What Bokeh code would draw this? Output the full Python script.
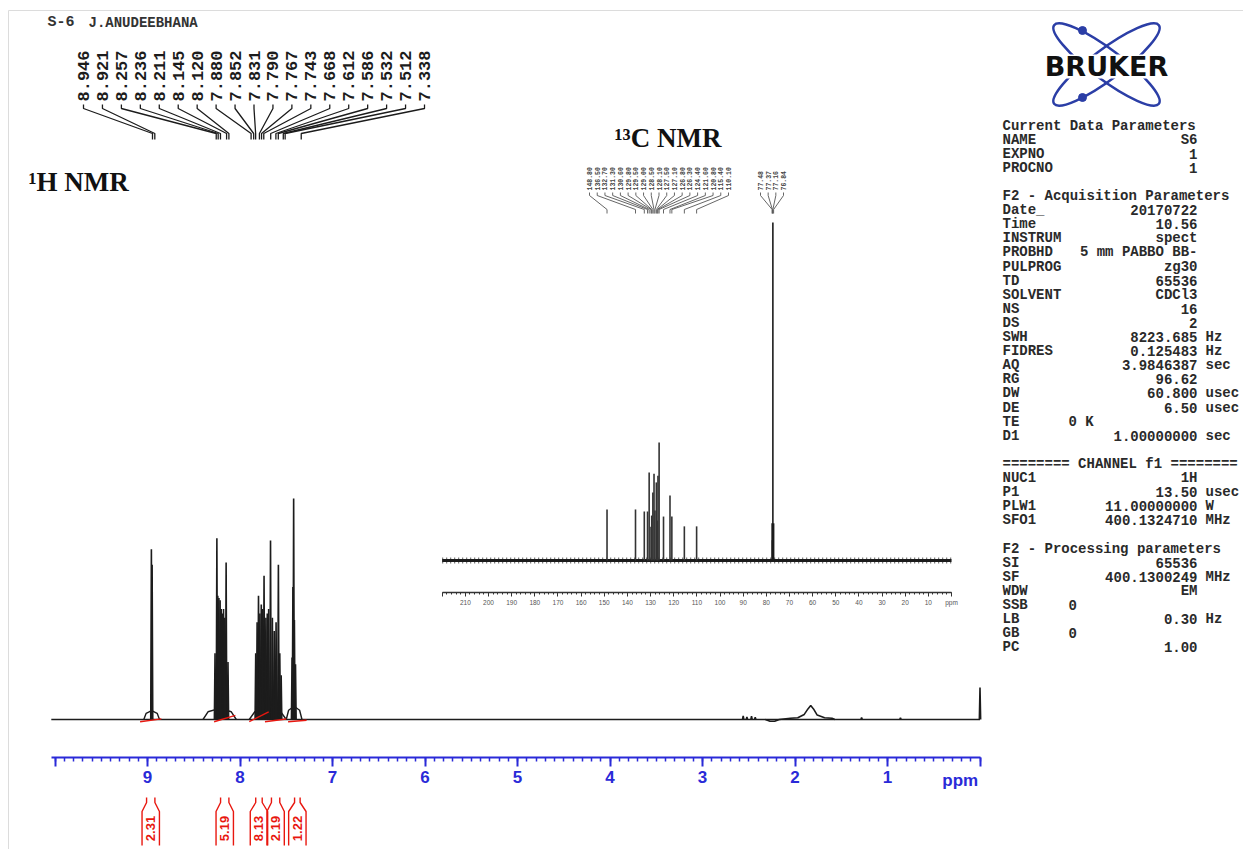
from math import pi

from bokeh.core.properties import value
from bokeh.embed import file_html
from bokeh.models import FixedTicker, LinearAxis, Range1d
from bokeh.plotting import figure
from bokeh.resources import INLINE

W, H = 1243, 849

# ---------------------------------------------------------------- 1H data
# peak-pick labels (ppm)
H1_PEAK_LABELS = [8.946, 8.921, 8.257, 8.236, 8.211, 8.145, 8.120, 7.880, 7.852,
                  7.831, 7.790, 7.767, 7.743, 7.668, 7.612, 7.586, 7.532, 7.512, 7.338]

# spectrum lines: position (ppm) and height (tallest line = 100)
H1_LINE_PPM = [8.958, 8.950,
               8.250, 8.150, 8.270, 8.240, 8.228, 8.215, 8.203, 8.190, 8.178,
               8.165, 8.130,
               7.800, 7.740, 7.670, 7.585, 7.830, 7.815, 7.785, 7.770, 7.755,
               7.720, 7.705, 7.690, 7.650, 7.630, 7.610, 7.570, 7.555,
               7.420, 7.437, 7.428, 7.412, 7.400]
H1_LINE_HT = [77, 70,
              82, 71, 30, 56, 55, 54, 50, 48, 50, 46, 26,
              56, 65, 81, 70, 30, 44, 48, 52, 50,
              46, 48, 50, 46, 40, 44, 30, 20,
              100, 28, 60, 45, 25]

# broad feet under each multiplet: from, to, height
H1_FOOT_FROM = [9.04, 8.40, 7.90, 7.50]
H1_FOOT_TO = [8.87, 8.04, 7.50, 7.33]
H1_FOOT_HT = [4, 5, 5, 6]

# small signals in the aliphatic region and the reference line
H1_MINOR_PPM = [2.56, 2.52, 2.47, 2.43, 1.28, 0.86, 0.00]
H1_MINOR_HT = [1.6, 1.2, 1.5, 1.0, 0.9, 0.8, 14.5]
H1_BUMP_PPM = [2.32, 2.27, 2.22, 2.17, 2.05, 1.97, 1.90, 1.86, 1.83, 1.80, 1.76,
               1.68, 1.60, 1.57]
H1_BUMP_HT = [0, -0.8, -0.8, 0, 0.6, 0.8, 2.3, 4.8, 6.3, 4.8, 2.0, 0.8, 0.6, 0]

# integrals
INT_LABELS = ["2.31", "5.19", "8.13", "2.19", "1.22"]
INT_FROM = [9.01, 8.21, 7.83, 7.66, 7.41]
INT_TO = [8.92, 8.12, 7.76, 7.57, 7.35]

H1_AXIS_TICKS = [float(t) for t in range(0, 11)]

# ---------------------------------------------------------------- 13C data
C13_PEAK_PPM = [148.80, 136.50, 132.70, 131.30, 130.60, 129.80, 129.50, 129.00,
                128.50, 128.10, 127.50, 127.10, 126.80, 126.30, 124.40, 121.60,
                120.80, 115.40, 110.10]
C13_PEAK_HT = [15.1, 15.1, 14.5, 14.5, 26.0, 10.0, 13.3, 20.1, 25.7, 14.8, 23.1,
               11.8, 25.1, 34.9, 13.0, 19.2, 13.0, 10.1, 10.1]
C13_SOLVENT_PPM = [77.48, 77.37, 77.16, 76.84]
C13_SOLVENT_HT = [11, 6, 100, 11]
C13_AXIS_TICKS = [float(t) for t in range(0, 221, 10)]

# ---------------------------------------------------------------- acquisition parameters
PARAM_HEADERS = ["Current Data Parameters", "F2 - Acquisition Parameters",
                 "======== CHANNEL f1 ========", "F2 - Processing parameters"]
PARAM_HEADER_ROWS = [0, 5, 24, 30]
PARAM_NAMES = ["NAME", "EXPNO", "PROCNO", "Date_", "Time", "INSTRUM", "PROBHD",
               "PULPROG", "TD", "SOLVENT", "NS", "DS", "SWH", "FIDRES", "AQ", "RG",
               "DW", "DE", "TE", "D1", "NUC1", "P1", "PLW1", "SFO1", "SI", "SF",
               "WDW", "SSB", "LB", "GB", "PC"]
PARAM_ROWS = [1, 2, 3, 6, 7, 8, 9, 10, 11, 12, 13, 14, 15, 16, 17, 18, 19, 20, 21,
              22, 25, 26, 27, 28, 31, 32, 33, 34, 35, 36, 37]
PARAM_VALUES = ["S6", "1", "1", "20170722", "10.56", "spect", "5 mm PABBO BB-",
                "zg30", "65536", "CDCl3", "16", "2", "8223.685", "0.125483",
                "3.9846387", "96.62", "60.800", "6.50", "", "1.00000000", "1H",
                "13.50", "11.00000000", "400.1324710", "65536", "400.1300249",
                "EM", "", "0.30", "", "1.00"]
PARAM_UNITS = ["", "", "", "", "", "", "", "", "", "", "", "", "Hz", "Hz", "sec",
               "", "usec", "usec", "", "sec", "", "usec", "W", "MHz", "", "MHz",
               "", "", "Hz", "", ""]
PARAM_SHORT_VALUES = ["0 K", "0", "0"]
PARAM_SHORT_ROWS = [21, 34, 36]

# ---------------------------------------------------------------- layout (pixels)
H1_ZERO_PX, H1_PX_PER_PPM = 979.5, 92.5
H1_BASE_PX, H1_PX_PER_UNIT = 719.0, 2.21
H1_AXIS_PX = 757
C13_ZERO_PX, C13_PX_PER_PPM = 951.0, 2.315
C13_BASE_PX, C13_PX_PER_UNIT = 560.0, 3.38
C13_AXIS_PX = 592

BLUE = "#2a2ad8"
RED = "#e8170f"
INK = "#1c1c1c"
MONO = value("Liberation Mono")
SANS = value("Liberation Sans")
SERIF = value("Liberation Serif")


def h1_ppm(px):
    return (H1_ZERO_PX - px) / H1_PX_PER_PPM


def c13_ppm(px):
    return (C13_ZERO_PX - px) / C13_PX_PER_PPM


def spread(a, b, n):
    return [a + (b - a) * i / (n - 1) for i in range(n)]


p = figure(width=W, height=H, x_range=Range1d(0, W), y_range=Range1d(H, 0),
           x_axis_type=None, y_axis_type=None, toolbar_location=None,
           output_backend="svg", min_border=0, outline_line_color=None,
           background_fill_color="white", border_fill_color="white")
p.extra_x_ranges = {
    "h1": Range1d(h1_ppm(0), h1_ppm(W)),
    "c13": Range1d(c13_ppm(0), c13_ppm(W)),
}
p.extra_y_ranges = {
    "h1y": Range1d((H1_BASE_PX - H) / H1_PX_PER_UNIT, H1_BASE_PX / H1_PX_PER_UNIT),
    "c13y": Range1d((C13_BASE_PX - H) / C13_PX_PER_UNIT, C13_BASE_PX / C13_PX_PER_UNIT),
}

# page frame
p.line([8, 8, W], [H, 10, 10], line_color="#dcdcdc", line_width=1)

# ---------------------------------------------------------------- 1H spectrum
hw = 0.007
all_ppm = H1_LINE_PPM + H1_MINOR_PPM
all_ht = H1_LINE_HT + H1_MINOR_HT
p.line([10.04, 0.0], [0, 0], line_color=INK, line_width=1.6,
       x_range_name="h1", y_range_name="h1y")
foot_x, foot_y = [], []
for a, b, h in zip(H1_FOOT_FROM, H1_FOOT_TO, H1_FOOT_HT):
    w = a - b
    foot_x.append([a, a - 0.15 * w, (a + b) / 2, b + 0.15 * w, b])
    foot_y.append([0, 0.7 * h, h, 0.7 * h, 0])
p.multi_line(foot_x, foot_y, line_color=INK, line_width=1.4,
             x_range_name="h1", y_range_name="h1y")
p.line(H1_BUMP_PPM, H1_BUMP_HT, line_color=INK, line_width=1.6,
       x_range_name="h1", y_range_name="h1y")
p.multi_line([[x + hw, x, x - hw] for x in all_ppm], [[0, h, 0] for h in all_ht],
             line_color=INK, line_width=1.6, x_range_name="h1", y_range_name="h1y")

# integral traces on the baseline
pad = 0.07
p.multi_line([[a + pad, b - pad] for a, b in zip(INT_FROM, INT_TO)],
             [[-1.0, -1.0 + float(v) * 0.55] for v in INT_LABELS],
             line_color=RED, line_width=1.4, x_range_name="h1", y_range_name="h1y")

# 1H axis
ax1 = LinearAxis(x_range_name="h1", fixed_location=H1_AXIS_PX,
                 ticker=FixedTicker(ticks=H1_AXIS_TICKS,
                                    minor_ticks=[i / 10 for i in range(0, 101)]),
                 bounds=(0, 10.04))
ax1.major_label_overrides = {0.0: "", 10.0: ""}
ax1.axis_line_color = BLUE
ax1.axis_line_width = 2
ax1.major_tick_line_color = BLUE
ax1.major_tick_line_width = 2
ax1.minor_tick_line_color = BLUE
ax1.minor_tick_line_width = 1.5
ax1.major_tick_in = 0
ax1.major_tick_out = 9
ax1.minor_tick_in = 0
ax1.minor_tick_out = 4
ax1.major_label_standoff = 4
ax1.major_label_text_font = "Liberation Sans"
ax1.major_label_text_font_style = "bold"
ax1.major_label_text_font_size = "17px"
ax1.major_label_text_color = BLUE
p.add_layout(ax1, "below")
p.text(x=[0.02], y=[780], text=["ppm"], text_align="right", text_baseline="middle",
       text_font=SANS, text_font_style="bold", text_font_size="17px",
       text_color=BLUE, x_range_name="h1")

# integral brackets and values
bw = 0.094
bx, by = [], []
for a, b in zip(INT_FROM, INT_TO):
    c = (a + b) / 2
    bx += [[a, a, c + bw, c + bw], [b, b, c - bw, c - bw]]
    by += [[797, 802, 811, 845], [797, 802, 811, 845]]
p.multi_line(bx, by, line_color=RED, line_width=1.4, x_range_name="h1")
p.text(x=[(a + b) / 2 for a, b in zip(INT_FROM, INT_TO)], y=[828] * len(INT_LABELS),
       text=INT_LABELS, angle=pi / 2, text_align="center", text_baseline="middle",
       text_font=SANS, text_font_style="bold", text_font_size="13px",
       text_color=RED, x_range_name="h1")

# peak labels with leader lines
lab_x = spread(h1_ppm(83), h1_ppm(424), len(H1_PEAK_LABELS))
p.text(x=lab_x, y=[101] * len(H1_PEAK_LABELS), text=[f"{v:.3f}" for v in H1_PEAK_LABELS],
       angle=pi / 2, text_align="left", text_baseline="middle", text_font=MONO,
       text_font_style="bold", text_font_size="17px", text_color=INK,
       x_range_name="h1")
p.multi_line([[lx, lx, v, v] for lx, v in zip(lab_x, H1_PEAK_LABELS)],
             [[104, 108, 133, 139]] * len(H1_PEAK_LABELS),
             line_color=INK, line_width=1.3, x_range_name="h1")

# ---------------------------------------------------------------- 13C inset
p.line([220, 0], [0, 0], line_color=INK, line_width=3, x_range_name="c13",
       y_range_name="c13y")
p.line([220, 0], [0, 0], line_color=INK, line_width=6, line_dash="1 3",
       line_alpha=0.7, x_range_name="c13", y_range_name="c13y")
p.segment(x0=C13_PEAK_PPM, y0=[0] * len(C13_PEAK_PPM), x1=C13_PEAK_PPM,
          y1=C13_PEAK_HT, line_color="#333333", line_width=1.6,
          x_range_name="c13", y_range_name="c13y")
p.segment(x0=C13_SOLVENT_PPM, y0=[0] * len(C13_SOLVENT_PPM), x1=C13_SOLVENT_PPM,
          y1=C13_SOLVENT_HT, line_color=INK, line_width=1.6,
          x_range_name="c13", y_range_name="c13y")

ax13 = LinearAxis(x_range_name="c13", fixed_location=C13_AXIS_PX,
                  ticker=FixedTicker(ticks=C13_AXIS_TICKS,
                                     minor_ticks=[float(t) for t in range(0, 221, 2)]),
                  bounds=(0, 220))
ax13.major_label_overrides = {0.0: "ppm", 220.0: ""}
ax13.axis_line_color = "#333333"
ax13.axis_line_width = 1.5
ax13.major_tick_line_color = "#333333"
ax13.minor_tick_line_color = "#333333"
ax13.major_tick_in = 0
ax13.major_tick_out = 4
ax13.minor_tick_in = 0
ax13.minor_tick_out = 2
ax13.major_label_standoff = 2
ax13.major_label_text_font = "Liberation Sans"
ax13.major_label_text_font_size = "6.5px"
ax13.major_label_text_color = "#555555"
p.add_layout(ax13, "below")

c_lab = spread(c13_ppm(589), c13_ppm(728), len(C13_PEAK_PPM))
p.text(x=c_lab, y=[190] * len(C13_PEAK_PPM), text=[f"{v:.2f}" for v in C13_PEAK_PPM],
       angle=pi / 2, text_align="left", text_baseline="middle", text_font=MONO,
       text_font_style="bold", text_font_size="6.5px", text_color="#444444",
       x_range_name="c13")
p.multi_line([[lx, lx, v, v] for lx, v in zip(c_lab, C13_PEAK_PPM)],
             [[192, 195, 209, 213]] * len(C13_PEAK_PPM),
             line_color="#555555", line_width=0.9, x_range_name="c13")
s_lab = spread(c13_ppm(760), c13_ppm(783), len(C13_SOLVENT_PPM))
p.text(x=s_lab, y=[190] * len(C13_SOLVENT_PPM), text=[f"{v:.2f}" for v in C13_SOLVENT_PPM],
       angle=pi / 2, text_align="left", text_baseline="middle", text_font=MONO,
       text_font_style="bold", text_font_size="6.5px", text_color="#444444",
       x_range_name="c13")
p.multi_line([[lx, lx, v, v] for lx, v in zip(s_lab, C13_SOLVENT_PPM)],
             [[192, 195, 209, 213]] * len(C13_SOLVENT_PPM),
             line_color="#555555", line_width=0.9, x_range_name="c13")

# ---------------------------------------------------------------- titles
p.text(x=[28], y=[181], text=["¹H NMR"], text_baseline="middle", text_font=SERIF,
       text_font_style="bold", text_font_size="27px", text_color="#111111")
p.text(x=[614], y=[137], text=["¹³C NMR"], text_baseline="middle", text_font=SERIF,
       text_font_style="bold", text_font_size="27px", text_color="#111111")
p.text(x=[47], y=[22], text=["S-6"], text_baseline="middle", text_font=MONO,
       text_font_style="bold", text_font_size="15px", text_color="#333333")
p.text(x=[88], y=[22], text=["J.ANUDEEBHANA"], text_baseline="middle", text_font=MONO,
       text_font_style="bold", text_font_size="14px", text_color="#333333")

# ---------------------------------------------------------------- logo
p.ellipse(x=[1106, 1106], y=[64, 64], width=[131, 131], height=[30, 30],
          angle=[0.644, -0.644], width_units="screen", height_units="screen",
          fill_color=None, line_color="#2b3ea6", line_width=2.5)
p.scatter(x=[1082, 1082], y=[30, 97], size=8, color="#2b3ea6")
p.rect(x=[1106], y=[66], width=[150], height=[24], fill_color="white", line_color=None)
p.text(x=[1106], y=[66], text=["BRUKER"], text_align="center", text_baseline="middle",
       text_font=value("DejaVu Sans"), text_font_style="bold", text_font_size="27px",
       text_color="#111111")

# ---------------------------------------------------------------- parameter block
ROW0, ROW_STEP = 125.0, 14.1
PX_NAME, PX_VALUE_RIGHT, PX_UNIT, PX_SHORT = 1002, 1197, 1205, 1068
ptext = dict(text_baseline="middle", text_font=MONO, text_font_style="bold",
             text_font_size="14px", text_color="#2a2a2a")
p.text(x=[PX_NAME] * len(PARAM_HEADERS), y=[ROW0 + r * ROW_STEP for r in PARAM_HEADER_ROWS],
       text=PARAM_HEADERS, **ptext)
p.text(x=[PX_NAME] * len(PARAM_NAMES), y=[ROW0 + r * ROW_STEP for r in PARAM_ROWS],
       text=PARAM_NAMES, **ptext)
p.text(x=[PX_VALUE_RIGHT] * len(PARAM_VALUES), y=[ROW0 + r * ROW_STEP for r in PARAM_ROWS],
       text=PARAM_VALUES, text_align="right", **ptext)
p.text(x=[PX_UNIT] * len(PARAM_UNITS), y=[ROW0 + r * ROW_STEP for r in PARAM_ROWS],
       text=PARAM_UNITS, **ptext)
p.text(x=[PX_SHORT] * len(PARAM_SHORT_VALUES),
       y=[ROW0 + r * ROW_STEP for r in PARAM_SHORT_ROWS], text=PARAM_SHORT_VALUES, **ptext)

open("out.html", "w").write(file_html(p, INLINE))
